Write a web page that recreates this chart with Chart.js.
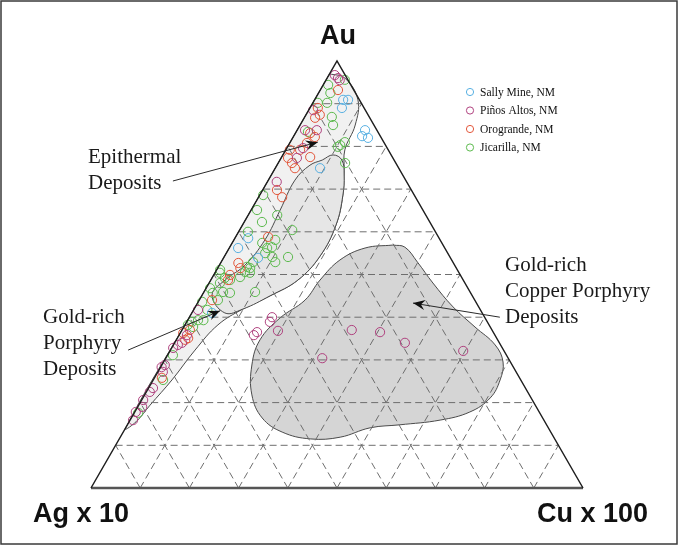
<!DOCTYPE html>
<html>
<head>
<meta charset="utf-8">
<script src="https://cdn.jsdelivr.net/npm/chart.js@4.4.1/dist/chart.umd.min.js"></script>
<style>
  html, body { margin: 0; padding: 0; background: #fff; }
  canvas { display: block; }
</style>
</head>
<body>
<canvas id="ternary" width="678" height="545"></canvas>
<script>
// Compositions as [Au, Cu x 100] in percent of (Au + Ag x 10 + Cu x 100); Ag x 10 is the remainder.
const seriesNames = ['Sally Mine, NM', 'Piños Altos, NM', 'Orogrande, NM', 'Jicarilla, NM'];
const seriesColors = ['#58b0e2', '#b0427f', '#e3573b', '#5cba4e'];

const sallyMine = [
  [90.9, 5.8], [90.9, 6.8], [89.0, 6.5], [83.8, 13.8], [82.0, 15.3], [82.4, 13.9],
  [74.9, 9.1], [58.5, 2.7], [56.2, 1.8], [53.9, 7.0], [41.0, 4.1]
];

const pinosAltos = [
  [96.7, 1.2], [96.0, 2.2], [95.5, 2.8], [88.5, 0.9], [83.8, 4.0], [83.8, 1.6],
  [79.6, 3.3], [77.3, 3.2], [71.7, 1.9], [41.7, 0.9], [35.8, 1.6], [34.0, 1.5],
  [33.5, 0.9], [32.8, 0.3], [28.8, 0.6], [28.3, 0.2], [27.2, 1.0], [23.4, 0.9],
  [22.5, 0.7], [20.6, 0.3], [19.0, 0.9], [15.9, 0.6], [17.8, 0.2],
  [40.0, 16.8], [38.9, 16.9], [36.8, 19.6], [36.5, 15.5], [35.8, 15.2],
  [37.0, 34.5], [36.5, 40.5], [34.0, 46.8], [32.1, 59.6], [30.4, 31.8]
];

const orogrande = [
  [93.2, 3.6], [89.0, 1.6], [86.7, 2.2], [87.4, 2.8], [80.8, 3.5], [83.1, 3.0],
  [82.2, 4.4], [79.2, 2.9], [79.2, 0.8], [77.3, 1.4], [76.1, 2.8], [74.9, 4.0],
  [77.5, 5.8], [68.1, 4.8], [69.8, 2.9], [58.8, 6.6], [52.7, 3.6], [51.5, 4.6],
  [49.9, 3.3], [48.7, 3.5], [37.0, 1.6], [35.1, 2.2], [34.7, 1.8], [36.3, 0.6],
  [25.8, 1.5], [44.0, 2.6]
];

const jicarilla = [
  [94.4, 1.0], [92.5, 2.4], [90.2, 2.9], [90.2, 1.0], [86.9, 5.5], [85.0, 6.7],
  [83.4, 2.4], [79.9, 10.2], [81.0, 11.1], [95.6, 3.8], [80.3, 10.5], [76.1, 13.6],
  [68.6, 0.7], [65.1, 1.2], [63.9, 5.9], [60.4, 10.7], [58.1, 8.4], [57.4, 6.1],
  [56.2, 7.7], [56.4, 8.6], [55.0, 7.9], [54.1, 9.8], [52.9, 11.0], [54.1, 13.0],
  [52.9, 6.5], [51.5, 6.6], [50.6, 6.0], [51.1, 0.7], [49.2, 2.6], [50.4, 1.0],
  [46.8, 0.8], [45.7, 1.9], [44.0, 3.8], [45.9, 3.9], [45.7, 5.4], [48.0, 2.2],
  [51.8, 5.8], [50.4, 7.1], [49.4, 5.6], [48.7, 3.9], [45.9, 10.4], [43.6, 0.8],
  [41.7, 2.8], [39.3, 2.1], [39.3, 3.2], [38.9, 1.1], [37.7, 1.9], [38.2, 0.6],
  [31.1, 1.1], [25.3, 2.0], [17.6, 0.8], [62.3, 3.6], [60.0, 1.9]
];

// Deposit fields, outlines as [Au, Cu x 100]
const goldBandField = [
  [97, 0], [96.0, 3.6], [90.9, 8.8], [85.0, 11.2], [79.2, 12.0], [74.5, 14.2],
  [68.6, 16.9], [61.6, 19.0], [54.3, 19.4], [48.7, 17.7], [45.0, 13.9], [41.9, 9.9],
  [38.2, 6.7], [32.3, 5.0], [25.3, 3.8], [19.4, 2.3], [15.5, 1.4], [14, 0],
  [40, 0], [70, 0], [97, 0]
];

const epithermalCore = [
  [76.8, 8.6], [78.0, 10.2], [76.8, 12.6], [73.3, 14.8], [68.6, 16.9], [61.6, 19.0],
  [54.3, 19.4], [48.7, 17.7], [45.0, 13.9], [41.9, 9.9], [41.0, 6.7], [45.2, 2.0],
  [48.7, 2.9], [52.2, 5.2], [58.1, 6.3], [65.1, 5.9], [72.1, 5.4], [75.6, 6.7],
  [76.8, 8.6]
];

const cuPorphyryField = [
  [56.9, 32.9], [56.4, 35.6], [52.9, 39.9], [48.0, 45.5], [42.4, 52.4], [37.7, 59.2],
  [33.5, 65.4], [29.5, 69.0], [25.3, 70.5], [21.1, 70.6], [17.8, 68.1], [15.9, 63.0],
  [14.8, 55.4], [14.1, 49.7], [11.9, 44.7], [11.5, 38.8], [13.1, 32.3], [16.4, 26.6],
  [21.8, 21.8], [28.8, 18.3], [34.7, 17.0], [39.8, 18.5], [44.0, 21.5], [48.7, 22.2],
  [53.4, 23.9], [56.2, 27.6], [56.9, 32.9]
];

const gridSteps = [10, 20, 30, 40, 50, 60, 70, 80, 90];
const cornerLabels = ['Au', 'Ag x 10', 'Cu x 100'];

// Field labels with leader arrows: tail and tip as [Au, Cu x 100]
const fieldNotes = [
  { lines: ['Epithermal', 'Deposits'], x: 88, y: 163, tail: [71.9, -19.3], tip: [81.0, 5.6] },
  { lines: ['Gold-rich', 'Porphyry', 'Deposits'], x: 43, y: 323, tail: [32.3, -8.6], tip: [41.5, 5.5] },
  { lines: ['Gold-rich', 'Copper Porphyry', 'Deposits'], x: 505, y: 271, tail: [40.0, 63.1], tip: [43.3, 43.8] }
];

// ternary -> cartesian (x along the base, y = Au)
const toXY = ([au, cu]) => ({ x: cu + au / 2, y: au });

const datasets = [];

function fieldSet(pts, fillColor, order) {
  return {
    type: 'line', data: pts.map(toXY), order,
    borderColor: '#4a4a4a', borderWidth: 1, backgroundColor: fillColor,
    fill: 'shape', tension: 0.4, pointRadius: 0, clip: false
  };
}
datasets.push(fieldSet(cuPorphyryField, '#d5d5d5', 9));
datasets.push(fieldSet(goldBandField, '#f1f1f1', 8));
datasets.push(fieldSet(epithermalCore, '#e6e6e6', 7));

gridSteps.forEach(k => {
  const lines = [
    [[k, 0], [k, 100 - k]],          // constant Au
    [[0, k], [100 - k, k]],          // constant Cu
    [[0, 100 - k], [100 - k, 0]]     // constant Ag
  ];
  lines.forEach(seg => datasets.push({
    type: 'line', data: seg.map(toXY), order: 5,
    borderColor: '#6e6e6e', borderWidth: 1, borderDash: [7, 4],
    fill: false, pointRadius: 0, tension: 0, clip: false
  }));
});

[sallyMine, pinosAltos, orogrande, jicarilla].forEach((pts, i) => {
  datasets.push({
    type: 'scatter', label: seriesNames[i], data: pts.map(toXY), order: 2,
    pointRadius: 4.6, pointBorderWidth: 1, pointBorderColor: seriesColors[i],
    pointBackgroundColor: 'rgba(0,0,0,0)', clip: false
  });
});

// triangle frame
datasets.push({
  type: 'line', data: [[0, 100], [100, 0], [0, 0]].map(toXY), order: 0,
  borderColor: '#1e1e1e', borderWidth: 1.5, fill: false, pointRadius: 0, tension: 0, clip: false
});
datasets.push({
  type: 'line', data: [[0, 0], [0, 100]].map(toXY), order: 0,
  borderColor: '#555', borderWidth: 2.4, fill: false, pointRadius: 0, tension: 0, clip: false
});

function drawArrow(ctx, x0, y0, x1, y1) {
  ctx.save();
  ctx.strokeStyle = '#2a2a2a';
  ctx.lineWidth = 1;
  ctx.beginPath();
  ctx.moveTo(x0, y0);
  ctx.lineTo(x1, y1);
  ctx.stroke();
  const a = Math.atan2(y1 - y0, x1 - x0);
  ctx.translate(x1, y1);
  ctx.rotate(a);
  ctx.fillStyle = '#111';
  ctx.beginPath();
  ctx.moveTo(0, 0);
  ctx.lineTo(-12, -5);
  ctx.lineTo(-8, 0);
  ctx.lineTo(-12, 5);
  ctx.closePath();
  ctx.fill();
  ctx.restore();
}

const decorations = {
  id: 'decorations',
  afterDatasetsDraw(chart) {
    const { ctx, scales } = chart;
    const px = p => { const q = toXY(p); return [scales.x.getPixelForValue(q.x), scales.y.getPixelForValue(q.y)]; };

    // outer frame
    ctx.save();
    ctx.strokeStyle = '#3a3a3a';
    ctx.lineWidth = 1.5;
    ctx.strokeRect(1, 1, chart.width - 2, chart.height - 2);

    // corner labels
    ctx.fillStyle = '#111';
    ctx.font = 'bold 27px "Liberation Sans", Arial, sans-serif';
    ctx.textBaseline = 'alphabetic';
    const apex = px([100, 0]);
    ctx.textAlign = 'center';
    ctx.fillText(cornerLabels[0], apex[0] + 1, 44);
    ctx.textAlign = 'left';
    ctx.fillText(cornerLabels[1], 33, 522);
    ctx.textAlign = 'right';
    ctx.fillText(cornerLabels[2], 648, 522);

    // field notes and leader arrows
    ctx.font = '21px "Liberation Serif", "Times New Roman", serif';
    ctx.textAlign = 'left';
    ctx.fillStyle = '#1a1a1a';
    fieldNotes.forEach(n => {
      n.lines.forEach((t, i) => ctx.fillText(t, n.x, n.y + i * 26));
      const [x0, y0] = px(n.tail);
      const [x1, y1] = px(n.tip);
      drawArrow(ctx, x0, y0, x1, y1);
    });

    // legend
    ctx.font = '11.5px "Liberation Serif", "Times New Roman", serif';
    ctx.textBaseline = 'middle';
    seriesNames.forEach((name, i) => {
      const y = 92 + i * 18.5;
      ctx.strokeStyle = seriesColors[i];
      ctx.lineWidth = 1;
      ctx.beginPath();
      ctx.arc(470, y, 3.6, 0, Math.PI * 2);
      ctx.stroke();
      ctx.fillStyle = '#111';
      ctx.fillText(name, 480, y + 0.5);
    });
    ctx.restore();
  }
};

new Chart(document.getElementById('ternary'), {
  type: 'scatter',
  data: { datasets },
  options: {
    responsive: false,
    animation: false,
    devicePixelRatio: 1,
    events: [],
    layout: { padding: { left: 91, right: 95, top: 61, bottom: 57 } },
    scales: {
      x: { type: 'linear', min: 0, max: 100, display: false },
      y: { type: 'linear', min: 0, max: 100, display: false }
    },
    plugins: { legend: { display: false }, tooltip: { enabled: false } }
  },
  plugins: [decorations]
});
</script>
</body>
</html>
